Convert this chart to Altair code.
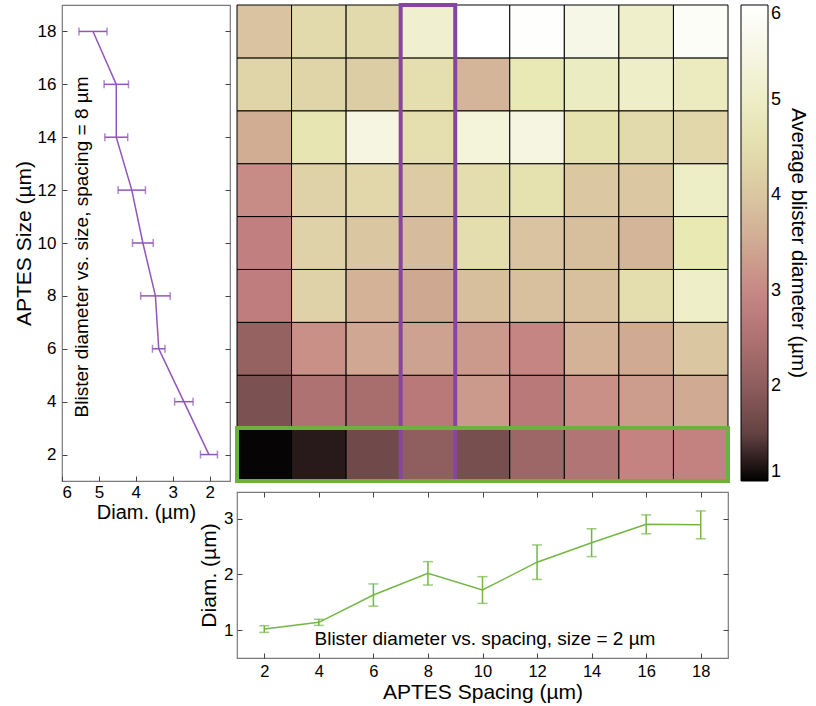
import altair as alt
import numpy as np
import pandas as pd

FONT = "Liberation Sans"
PURPLE_BOX = "#8646a0"
PURPLE_LINE = "#9255b8"
GREEN_BOX = "#6db040"
GREEN_LINE = "#74b646"
FRAME = "#7a7a7a"

SPACING = [2, 4, 6, 8, 10, 12, 14, 16, 18]
SIZE = [2, 4, 6, 8, 10, 12, 14, 16, 18]

# Average blister diameter (µm) per APTES size; values ordered by spacing 2..18
HEAT = {
    18: [3.95, 4.40, 4.40, 5.16, 6.00, 5.95, 5.55, 5.10, 5.85],
    16: [4.30, 4.30, 4.15, 4.53, 3.70, 4.78, 4.95, 5.05, 4.90],
    14: [3.55, 4.65, 5.45, 4.53, 5.35, 5.45, 4.60, 4.40, 4.35],
    12: [3.05, 4.25, 4.35, 4.11, 4.50, 4.60, 4.05, 4.05, 5.00],
    10: [2.85, 4.25, 4.00, 3.81, 4.50, 3.95, 3.85, 3.70, 4.75],
    8:  [2.80, 4.25, 3.65, 3.47, 3.85, 3.90, 3.90, 4.50, 5.05],
    6:  [2.10, 3.10, 3.45, 3.38, 3.25, 2.95, 3.65, 3.50, 4.00],
    4:  [1.75, 2.50, 2.40, 2.70, 3.25, 2.70, 3.10, 3.30, 3.50],
    2:  [1.02, 1.14, 1.63, 2.02, 1.72, 2.22, 2.57, 2.90, 2.89],
}

# Error bars (µm) for the two highlighted cuts
SIZE_CUT_SPACING = 8
SIZE_CUT_ERR = [0.23, 0.25, 0.17, 0.40, 0.28, 0.37, 0.31, 0.33, 0.38]
SPACING_CUT_SIZE = 2
SPACING_CUT_ERR = [0.06, 0.055, 0.20, 0.21, 0.24, 0.31, 0.25, 0.17, 0.25]


# MATLAB-style "pink" colormap: sqrt((2*gray + hot) / 3)
def pink(t):
    r = min(1.0, t / 0.375)
    g = min(1.0, max(0.0, (t - 0.375) / 0.375))
    b = min(1.0, max(0.0, (t - 0.75) / 0.25))
    rgb = [np.sqrt((2 * t + c) / 3.0) for c in (r, g, b)]
    return "#" + "".join(f"{int(round(c * 255)):02x}" for c in rgb)


CMIN, CMAX = 1.0, 6.0
stops_t = sorted(set([i / 20 for i in range(21)] + [0.375, 0.75]))
color_scale = alt.Scale(
    domain=[CMIN + t * (CMAX - CMIN) for t in stops_t],
    range=[pink(t) for t in stops_t],
    interpolate="rgb",
)

# ---- tables ----
heat_df = pd.DataFrame(
    [
        {"spacing": sp, "size": sz, "diam": HEAT[sz][i],
         "x0": sp - 1, "x1": sp + 1, "y0": sz - 1, "y1": sz + 1}
        for sz in SIZE for i, sp in enumerate(SPACING)
    ]
)
col_idx = SPACING.index(SIZE_CUT_SPACING)
size_cut = pd.DataFrame({
    "size": SIZE,
    "diam": [HEAT[s][col_idx] for s in SIZE],
    "err": SIZE_CUT_ERR,
})
size_cut["lo"] = size_cut["diam"] - size_cut["err"]
size_cut["hi"] = size_cut["diam"] + size_cut["err"]

spacing_cut = pd.DataFrame({
    "spacing": SPACING,
    "diam": HEAT[SPACING_CUT_SIZE],
    "err": SPACING_CUT_ERR,
})
spacing_cut["lo"] = spacing_cut["diam"] - spacing_cut["err"]
spacing_cut["hi"] = spacing_cut["diam"] + spacing_cut["err"]

grid_scale = alt.Scale(domain=[1, 19], nice=False, zero=False)

TICK = dict(offset=-5, tickSize=5, domain=False, grid=False, tickColor="#444")
LABELS = dict(labelColor="black", titleFontWeight="normal", titleColor="black")

# ---- left panel: diameter vs size at fixed spacing ----
diam_scale_l = alt.Scale(domain=[1.45, 6], reverse=True, nice=False, zero=False)
y_left_axis = alt.Axis(values=SIZE, title="APTES Size (µm)", labelPadding=6,
                       titlePadding=3, labelFontSize=17, titleFontSize=21, **TICK, **LABELS)
y_right_axis = alt.Axis(values=SIZE, orient="right", labels=False, title=None, **TICK)
x_left_axis = alt.Axis(values=[6, 5, 4, 3, 2], title="Diam. (µm)", labelPadding=3,
                       titlePadding=2, labelFontSize=17, titleFontSize=20, **TICK, **LABELS)

left_line = alt.Chart(size_cut).mark_line(color=PURPLE_LINE, strokeWidth=1.5).encode(
    x=alt.X("diam:Q", scale=diam_scale_l, axis=x_left_axis),
    y=alt.Y("size:Q", scale=grid_scale, axis=y_left_axis),
    order="size:Q",
)
left_err = alt.Chart(size_cut).mark_errorbar(
    color=PURPLE_LINE, thickness=1.5, ticks=True, size=8
).encode(
    x=alt.X("lo:Q", scale=diam_scale_l, axis=x_left_axis),
    x2="hi:Q",
    y=alt.Y("size:Q", scale=grid_scale, axis=y_right_axis),
)
left_note = alt.Chart(pd.DataFrame({
    "x": [5.45], "y": [9.85],
    "t": [f"Blister diameter vs. size, spacing = {SIZE_CUT_SPACING} µm"],
})).mark_text(angle=270, fontSize=19, font=FONT, color="black").encode(
    x=alt.X("x:Q", scale=diam_scale_l, axis=x_left_axis),
    y=alt.Y("y:Q", scale=grid_scale, axis=None),
    text="t:N",
)
left = alt.layer(left_line, left_err, left_note).resolve_axis(y="independent").properties(
    width=168, height=476, view=alt.ViewBackground(stroke=FRAME, strokeWidth=1.2)
)

# ---- heatmap ----
cells = alt.Chart(heat_df).mark_rect(stroke="black", strokeWidth=1).encode(
    x=alt.X("x0:Q", scale=grid_scale, axis=None),
    x2="x1:Q",
    y=alt.Y("y0:Q", scale=grid_scale, axis=None),
    y2="y1:Q",
    color=alt.Color(
        "diam:Q", scale=color_scale,
        legend=alt.Legend(
            title="Average blister diameter (µm)", titleOrient="right",
            titleAnchor="middle", titleFontSize=20.5, titleFontWeight="normal",
            titleColor="black", titlePadding=7, titleLimit=800,
            labelFontSize=18, labelOffset=3, labelColor="black",
            gradientLength=476, gradientThickness=27, format="d",
            gradientStrokeColor="black", gradientStrokeWidth=1,
            values=[1, 2, 3, 4, 5, 6], offset=10, direction="vertical",
            orient="right", labelOverlap=False,
        ),
    ),
)
col_box = alt.Chart(pd.DataFrame({"sp": [SIZE_CUT_SPACING]})).transform_calculate(
    a="datum.sp - 1", b="datum.sp + 1"
).mark_rect(filled=False, stroke=PURPLE_BOX, strokeWidth=4).encode(
    x=alt.X("a:Q", scale=grid_scale, axis=None),
    x2="b:Q",
    y=alt.Y(datum=1, scale=grid_scale, axis=None),
    y2=alt.Y2(datum=19),
)
row_box = alt.Chart(pd.DataFrame({"sz": [SPACING_CUT_SIZE]})).transform_calculate(
    a="datum.sz - 1", b="datum.sz + 1"
).mark_rect(filled=False, stroke=GREEN_BOX, strokeWidth=4).encode(
    x=alt.X(datum=1, scale=grid_scale, axis=None),
    x2=alt.X2(datum=19),
    y=alt.Y("a:Q", scale=grid_scale, axis=None),
    y2="b:Q",
)
heat = alt.layer(cells, col_box, row_box).properties(
    width=491, height=476, view=alt.ViewBackground(stroke="transparent")
)

# ---- bottom panel: diameter vs spacing at fixed size ----
diam_scale_b = alt.Scale(domain=[0.5, 3.48], nice=False, zero=False)
x_bot_axis = alt.Axis(values=SPACING, title="APTES Spacing (µm)", labelPadding=5,
                      titlePadding=2, labelFontSize=16.5, titleFontSize=21, **TICK, **LABELS)
x_top_axis = alt.Axis(values=SPACING, orient="top", labels=False, title=None, **TICK)
y_bot_axis = alt.Axis(values=[1, 2, 3], title="Diam. (µm)", labelPadding=4,
                      titlePadding=4, labelFontSize=17, titleFontSize=21, **TICK, **LABELS)
y_bot_right = alt.Axis(values=[1, 2, 3], orient="right", labels=False, title=None, **TICK)

bot_line = alt.Chart(spacing_cut).mark_line(color=GREEN_LINE, strokeWidth=1.5).encode(
    x=alt.X("spacing:Q", scale=grid_scale, axis=x_bot_axis),
    y=alt.Y("diam:Q", scale=diam_scale_b, axis=y_bot_axis),
)
bot_err = alt.Chart(spacing_cut).mark_errorbar(
    color=GREEN_LINE, thickness=1.5, ticks=True, size=10
).encode(
    x=alt.X("spacing:Q", scale=grid_scale, axis=x_top_axis),
    y=alt.Y("lo:Q", scale=diam_scale_b, axis=y_bot_right),
    y2="hi:Q",
)
bot_note = alt.Chart(pd.DataFrame({
    "x": [10.09], "y": [0.835],
    "t": [f"Blister diameter vs. spacing, size = {SPACING_CUT_SIZE} µm"],
})).mark_text(fontSize=19, font=FONT, color="black").encode(
    x=alt.X("x:Q", scale=grid_scale, axis=None),
    y=alt.Y("y:Q", scale=diam_scale_b, axis=None),
    text="t:N",
)
bottom = alt.layer(bot_line, bot_err, bot_note).resolve_axis(
    x="independent", y="independent"
).properties(width=491, height=166, view=alt.ViewBackground(stroke=FRAME, strokeWidth=1.2))

blank = alt.Chart(pd.DataFrame({"v": [0]})).mark_point(opacity=0).encode(
    x=alt.X("v:Q", axis=None), y=alt.Y("v:Q", axis=None)
).properties(width=168, height=166, view=alt.ViewBackground(stroke="transparent"))

chart = alt.concat(
    left, heat, blank, bottom, columns=2, spacing={"row": 11, "column": 7}, bounds="flush"
).resolve_scale(x="independent", y="independent").properties(
    padding={"left": 12, "top": 2, "right": 2, "bottom": 0}
).configure(font=FONT).configure_axis(labelFont=FONT, titleFont=FONT).configure_legend(
    labelFont=FONT, titleFont=FONT
)

chart.save("out.html", embed_options={"renderer": "svg", "actions": False})
